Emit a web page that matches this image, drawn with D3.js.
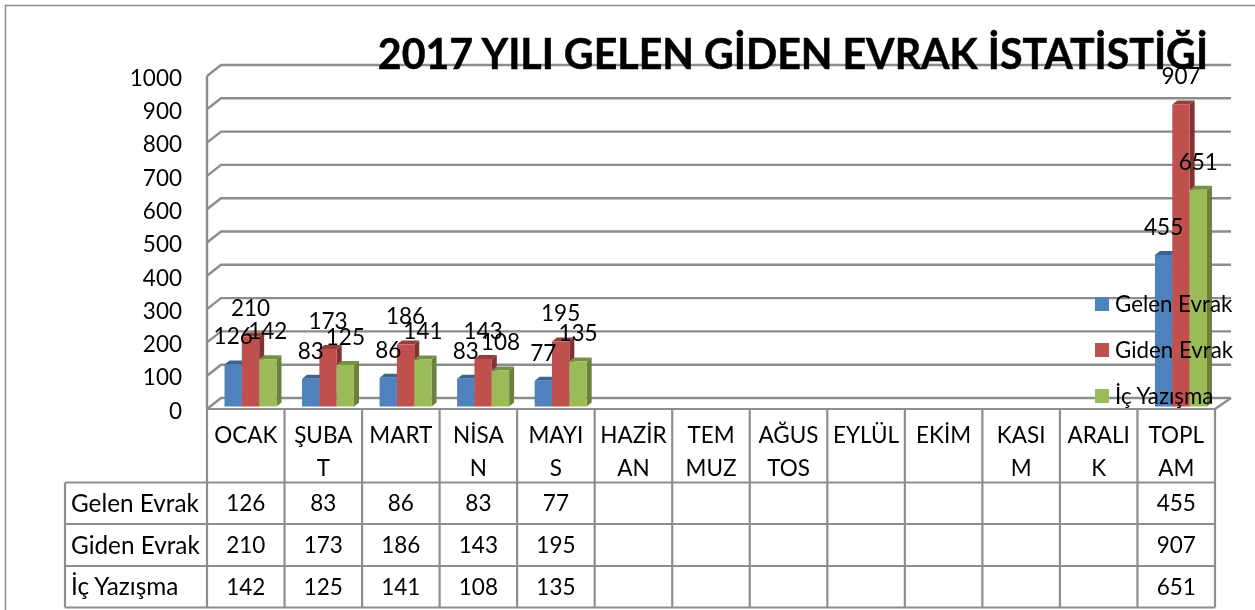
<!DOCTYPE html>
<html>
<head>
<meta charset="utf-8">
<script src="https://cdnjs.cloudflare.com/ajax/libs/d3/7.8.5/d3.min.js"></script>
<style>
  html, body { margin: 0; padding: 0; background: #fff; overflow: hidden; }
  svg { display: block; filter: blur(0.45px); }
  text { font-family: Lato, sans-serif; fill: #000; }
</style>
</head>
<body>
<div id="chart"></div>
<script>
var months = ['OCAK', 'ŞUBAT', 'MART', 'NİSAN', 'MAYIS', 'HAZİRAN', 'TEMMUZ', 'AĞUSTOS', 'EYLÜL', 'EKİM', 'KASIM', 'ARALIK', 'TOPLAM']
var monthLines = [['OCAK'], ['ŞUBA', 'T'], ['MART'], ['NİSA', 'N'], ['MAYI', 'S'], ['HAZİR', 'AN'], ['TEM', 'MUZ'],
  ['AĞUS', 'TOS'], ['EYLÜL'], ['EKİM'], ['KASI', 'M'], ['ARALI', 'K'], ['TOPL', 'AM']]
var seriesNames = ['Gelen Evrak', 'Giden Evrak', 'İç Yazışma']
var gelen = [126, 83, 86, 83, 77, null, null, null, null, null, null, null, 455]
var giden = [210, 173, 186, 143, 195, null, null, null, null, null, null, null, 907]
var ic = [142, 125, 141, 108, 135, null, null, null, null, null, null, null, 651]
var seriesValues = [gelen, giden, ic]
var colors = ['#4f81bd', '#c0504d', '#9bbb59']
var topColors = ['#3d6491', '#943e3b', '#778f45']
var sideColors = ['#365a84', '#7f3331', '#6a803d']
var yTicks = [0, 100, 200, 300, 400, 500, 600, 700, 800, 900, 1000]
var title = '2017 YILI GELEN GİDEN EVRAK İSTATİSTİĞİ'

var width = 1255, height = 610
var grid = '#8c8c8c', tableLine = '#8e8e8e'

var svg = d3.select('#chart').append('svg')
  .attr('width', width)
  .attr('height', height)

// chart frame
svg.append('path')
  .attr('d', 'M5.5,610V5.5H1255')
  .attr('fill', 'none')
  .attr('stroke', '#8c8c8c')
  .attr('stroke-width', 1.5)

var x = d3.scaleBand().domain(months).range([207, 1215])
var y = d3.scaleLinear().domain([0, 1000]).range([409, 76])
var inner = d3.scaleBand().domain(d3.range(3)).range([17.5, 69.5])

// fake 3d offsets
var wallDx = 14, wallDy = 11
var barDx = 5, barDy = 4
var barShift = 2.5

// gridlines on back wall and side wall
var gl = svg.append('g').attr('fill', 'none').attr('stroke', grid).attr('stroke-width', 2.4)
gl.selectAll('path').data(yTicks).join('path')
  .attr('d', function(d) {
    return 'M207,' + y(d) + 'L' + (207 + wallDx) + ',' + (y(d) - wallDy) + 'H1231'
  })
gl.append('path').attr('d', 'M1215,' + y(0) + 'L1231,' + (y(0) - wallDy))
gl.append('path').attr('d', 'M207,' + y(1000) + 'V' + y(0))

// bars
var bars = svg.append('g')
months.forEach(function(m, i) {
  seriesValues.forEach(function(vals, s) {
    var v = vals[i]
    if (v == null) return
    var x0 = x(m) + inner(s)
    var x1 = x0 + inner.bandwidth()
    var base = y(0) - barShift
    var yt = y(v) - barShift
    bars.append('path')
      .attr('fill', sideColors[s])
      .attr('d', 'M' + x1 + ',' + yt + 'L' + (x1 + barDx) + ',' + (yt - barDy) + 'V' + (base - barDy) + 'L' + x1 + ',' + base + 'Z')
    bars.append('path')
      .attr('fill', topColors[s])
      .attr('d', 'M' + x0 + ',' + yt + 'L' + (x0 + barDx) + ',' + (yt - barDy) + 'H' + (x1 + barDx) + 'L' + x1 + ',' + yt + 'Z')
    bars.append('rect')
      .attr('x', x0)
      .attr('y', yt)
      .attr('width', inner.bandwidth())
      .attr('height', base - yt)
      .attr('fill', colors[s])
  })
})

// title on top of gridline
svg.append('text')
  .attr('x', 793)
  .attr('y', 68.5)
  .attr('text-anchor', 'middle')
  .attr('font-size', 41.1)
  .attr('font-weight', 700)
  .style('stroke', '#000')
  .style('stroke-width', 0.5)
  .text(title)

// y axis labels
var yAxis = d3.axisLeft(y).tickValues(yTicks).tickFormat(d3.format('d')).tickSize(0).tickPadding(0)
var yg = svg.append('g')
  .attr('transform', 'translate(182,2)')
  .call(yAxis)
yg.select('.domain').remove()
yg.selectAll('text').attr('font-size', 22.5).style('font-family', 'Lato, sans-serif')

// data labels
months.forEach(function(m, i) {
  seriesValues.forEach(function(vals, s) {
    var v = vals[i]
    if (v == null) return
    svg.append('text')
      .attr('x', x(m) + inner(s) + inner.bandwidth() / 2)
      .attr('y', y(v) - barShift - 28)
      .attr('dy', '0.35em')
      .attr('text-anchor', 'middle')
      .attr('font-size', 22.5)
      .text(v)
  })
})

// legend
var legend = svg.append('g')
seriesNames.forEach(function(n, i) {
  var ly = 297 + i * 46
  legend.append('rect').attr('x', 1095).attr('y', ly).attr('width', 14).attr('height', 14).attr('fill', colors[i])
  legend.append('text').attr('x', 1115).attr('y', ly + 7).attr('dy', '0.35em').attr('font-size', 22.3).text(n)
})

// data table
var rowY = d3.scaleBand().domain(seriesNames).range([482.5, 607.5])
var t = svg.append('g').attr('stroke', tableLine).attr('stroke-width', 2.2).attr('fill', 'none')
t.append('path').attr('d', 'M65,482.5H1215M65,524H1215M65,566H1215M65,607.5H1215M65,482.5V607.5')
months.forEach(function(m) {
  t.append('path').attr('d', 'M' + x(m) + ',409V607.5')
})
t.append('path').attr('d', 'M1215,409V607.5M207,409H1215')

monthLines.forEach(function(lines, i) {
  lines.forEach(function(l, k) {
    svg.append('text')
      .attr('x', x(months[i]) + x.bandwidth() / 2)
      .attr('y', 435 + k * 33)
      .attr('dy', '0.35em')
      .attr('text-anchor', 'middle')
      .attr('font-size', 22.5)
      .text(l)
  })
})
seriesNames.forEach(function(n, s) {
  var cy = rowY(n) + rowY.bandwidth() / 2
  svg.append('text').attr('x', 71).attr('y', cy).attr('dy', '0.35em').attr('font-size', 24.3).text(n)
  months.forEach(function(m, i) {
    var v = seriesValues[s][i]
    if (v == null) return
    svg.append('text')
      .attr('x', x(m) + x.bandwidth() / 2)
      .attr('y', cy)
      .attr('dy', '0.35em')
      .attr('text-anchor', 'middle')
      .attr('font-size', 22.5)
      .text(v)
  })
})
</script>
</body>
</html>
